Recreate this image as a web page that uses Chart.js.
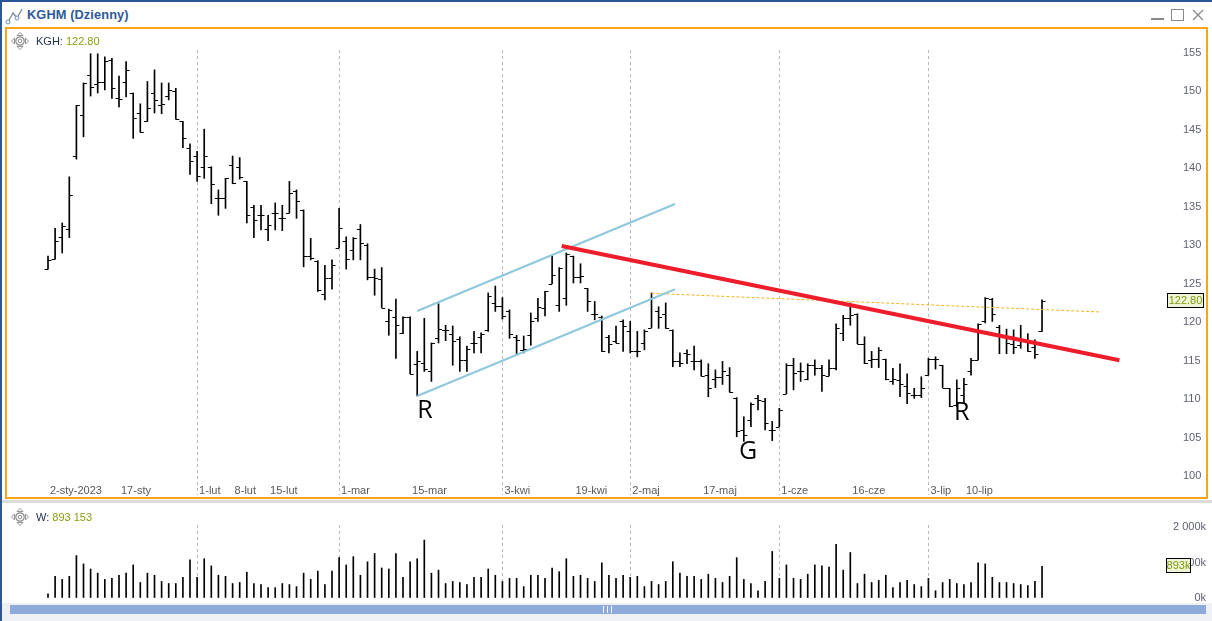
<!DOCTYPE html>
<html lang="pl">
<head>
<meta charset="utf-8">
<title>KGHM (Dzienny)</title>
<script src="https://cdn.jsdelivr.net/npm/chart.js@4.4.1/dist/chart.umd.min.js"></script>
<style>
html,body{margin:0;padding:0;}
body{width:1212px;height:621px;position:relative;overflow:hidden;background:#fff;font-family:"Liberation Sans",Arial,sans-serif;}
#topline{position:absolute;left:0;top:0;width:1212px;height:2px;background:#2b5797;}
#leftline{position:absolute;left:0;top:0;width:2px;height:621px;background:#2b5797;z-index:9;}
#title{position:absolute;left:27px;top:7px;font-weight:bold;font-size:12.8px;color:#2e5a98;letter-spacing:0.1px;}
#ticon{position:absolute;left:5px;top:7px;}
#wbtn{position:absolute;left:1148px;top:6px;}
#frame{position:absolute;left:5px;top:27px;width:1203px;height:472px;box-sizing:border-box;border:2px solid #f9a51b;z-index:5;pointer-events:none;}
#priceWrap{position:absolute;left:7px;top:29px;width:1199px;height:476px;z-index:2;}
#sep{position:absolute;left:2px;top:500px;width:1210px;height:3px;background:#dcdcdc;z-index:6;}
#volWrap{position:absolute;left:7px;top:515px;width:1199px;height:93px;z-index:2;}
#scroll{position:absolute;left:2px;top:603px;width:1210px;height:18px;background:#eef0f4;z-index:6;}
#sbar{position:absolute;left:8px;top:2px;width:1196px;height:9px;background:#8eaadb;}
#thumb{position:absolute;left:593px;top:1px;width:7px;height:7px;border-left:1px solid #fff;border-right:1px solid #fff;}
#thumb:after{content:"";position:absolute;left:3px;top:0;width:1px;height:7px;background:#fff;}
.legend{position:absolute;font-size:11px;color:#1f2d4d;z-index:7;white-space:nowrap;}
.legend span{color:#8a9c12;}
.micon{position:absolute;z-index:7;}
</style>
</head>
<body>
<div id="topline"></div>
<div id="leftline"></div>
<svg id="ticon" width="20" height="18" viewBox="0 0 20 18">
  <polyline points="3,15 8,6 12,11 17,2" fill="none" stroke="#7f8a9a" stroke-width="1.3"/>
  <circle cx="3" cy="15" r="2" fill="#fff" stroke="#6d8fbf" stroke-width="1"/>
  <circle cx="12" cy="11" r="2" fill="#fff" stroke="#6d8fbf" stroke-width="1"/>
</svg>
<div id="title">KGHM (Dzienny)</div>
<svg id="wbtn" width="60" height="18" viewBox="0 0 60 18">
  <rect x="3" y="12" width="13" height="2" fill="#8a8a8a"/>
  <rect x="23.5" y="3.5" width="12" height="11" fill="none" stroke="#8a8a8a" stroke-width="1"/>
  <path d="M45 4 L55 14 M55 4 L45 14" stroke="#8a8a8a" stroke-width="1.3"/>
</svg>

<div id="frame"></div>
<svg class="micon" style="left:11px;top:32px" width="18" height="18" viewBox="0 0 18 18">
  <circle cx="9" cy="9" r="4.2" fill="none" stroke="#8a8a8a" stroke-width="1.2"/>
  <circle cx="9" cy="9" r="1.8" fill="none" stroke="#8a8a8a" stroke-width="1"/>
  <path d="M9 0.5 L12 3.5 L6 3.5 Z M9 17.5 L12 14.5 L6 14.5 Z M0.5 9 L3.5 6 L3.5 12 Z M17.5 9 L14.5 6 L14.5 12 Z" fill="none" stroke="#8a8a8a" stroke-width="0.9"/>
</svg>
<div class="legend" id="legP" style="left:36px;top:35px">KGH: <span id="legPv"></span></div>
<div id="priceWrap"><canvas id="priceChart"></canvas></div>
<div id="sep"></div>
<svg class="micon" style="left:11px;top:508px" width="18" height="18" viewBox="0 0 18 18">
  <circle cx="9" cy="9" r="4.2" fill="none" stroke="#8a8a8a" stroke-width="1.2"/>
  <circle cx="9" cy="9" r="1.8" fill="none" stroke="#8a8a8a" stroke-width="1"/>
  <path d="M9 0.5 L12 3.5 L6 3.5 Z M9 17.5 L12 14.5 L6 14.5 Z M0.5 9 L3.5 6 L3.5 12 Z M17.5 9 L14.5 6 L14.5 12 Z" fill="none" stroke="#8a8a8a" stroke-width="0.9"/>
</svg>
<div class="legend" id="legV" style="left:36px;top:511px">W: <span id="legVv"></span></div>
<div id="volWrap"><canvas id="volChart"></canvas></div>
<div id="scroll"><div id="sbar"><div id="thumb"></div></div></div>

<script>
// ---------------- DATA ----------------
// x = trading-day index (0 = 2-sty-2023)
const tickIdx    = [0, 10, 21, 26, 31, 41, 51, 64, 74, 82, 92, 103, 113, 124, 129];
const tickLabels = ['2-sty-2023','17-sty','1-lut','8-lut','15-lut','1-mar','15-mar','3-kwi','19-kwi','2-maj','17-maj','1-cze','16-cze','3-lip','10-lip'];
const monthStartIdx = [21, 41, 64, 82, 103, 124];
const priceTicks = [100,105,110,115,120,125,130,135,140,145,150,155];
const volumeTicks = [0, 1000, 2000]; // thousands

const openP = [126.9,128.2,131.1,132.1,141.6,147.0,152.1,151.0,151.2,154.1,149.2,151.2,149.8,147.2,146.2,149.8,148.2,149.4,150.0,146.1,
  142.7,141.6,140.2,140.2,136.1,136.1,140.4,140.2,138.3,135.0,133.9,132.1,134.2,133.5,134.2,137.1,134.6,128.6,128.0,123.7,
  125.8,129.7,130.5,129.4,132.1,130.0,125.9,125.6,120.1,120.7,118.6,120.7,114.6,114.7,113.6,117.9,119.0,118.5,117.8,115.1,
  117.3,118.1,119.0,122.5,122.1,121.5,118.1,116.4,118.3,120.6,121.8,125.0,122.2,123.2,128.6,125.9,124.4,121.1,120.7,118.1,
  117.5,120.1,118.9,116.2,117.3,119.3,121.4,121.0,119.0,115.0,116.0,115.0,115.0,113.1,112.6,112.9,113.1,110.2,106.0,107.3,
  110.2,109.8,106.0,106.4,110.7,114.4,113.6,112.6,114.4,114.1,113.0,114.0,118.6,120.6,121.0,117.2,115.1,115.2,115.2,112.3,
  112.5,111.7,110.5,110.5,113.1,115.2,114.4,111.4,109.2,110.5,113.7,115.1,120.1,123.0,119.4,118.2,117.2,117.0,117.5,116.8,
  118.8];
const highP = [128.6,132.2,132.9,138.9,148.2,151.1,154.9,154.9,154.5,154.3,152.0,153.9,149.8,148.4,151.3,152.8,151.1,151.1,150.4,146.1,
  143.2,142.2,145.1,140.2,137.2,138.7,141.6,141.4,138.3,135.2,135.2,133.9,135.5,135.2,138.3,137.2,134.6,130.9,128.0,127.4,
  128.1,134.8,131.1,131.0,132.7,130.2,126.9,127.1,121.7,123.0,120.7,120.7,116.2,120.5,117.3,122.4,119.6,119.5,118.1,116.9,
  118.8,118.6,123.8,124.7,123.2,121.6,118.3,118.2,121.2,123.1,124.0,128.6,127.1,129.0,128.6,127.6,124.4,122.7,120.8,118.3,
  119.5,120.3,120.1,118.8,119.0,123.8,122.0,122.5,119.0,116.0,116.4,116.9,115.1,114.6,113.8,114.9,114.1,110.2,107.7,109.5,
  110.5,110.1,107.1,108.8,114.6,115.3,114.7,114.6,115.1,114.4,115.1,119.8,120.9,122.5,121.1,118.1,116.2,116.7,115.2,114.0,
  114.6,113.3,111.4,112.9,115.3,115.5,114.4,111.4,112.5,112.7,115.3,119.8,123.2,123.1,119.6,119.1,119.0,119.6,118.5,117.7,
  122.9];
const lowP = [126.9,128.2,129.0,131.0,141.2,144.1,149.4,149.8,150.2,149.1,148.0,149.3,143.9,144.7,146.1,147.2,147.1,148.9,146.4,142.7,
  139.2,138.3,138.7,135.4,133.9,134.8,138.0,138.6,132.9,131.0,132.0,130.6,132.0,131.9,134.2,133.5,127.2,128.1,124.0,122.9,
  124.3,129.7,126.9,128.1,128.1,125.5,123.5,121.9,118.3,115.3,118.5,113.3,110.4,113.6,112.3,117.3,117.6,114.4,113.6,113.6,
  116.0,116.0,118.8,121.4,120.4,117.9,115.7,116.0,117.0,120.1,120.8,125.0,121.4,122.2,125.1,125.1,121.4,120.3,116.2,116.0,
  117.3,116.2,116.0,115.5,116.4,119.3,119.2,119.2,114.2,114.2,114.6,113.8,113.0,110.3,111.5,111.9,110.9,105.1,104.5,106.4,
  108.6,106.0,104.6,106.4,110.7,111.2,112.3,112.5,113.1,111.0,113.0,113.8,117.6,119.6,117.2,114.6,114.1,114.1,112.5,111.9,
  110.3,109.4,110.1,110.2,113.1,113.9,111.5,109.0,109.0,109.5,113.1,115.1,119.9,120.1,115.9,115.9,115.9,116.6,116.2,115.3,
  118.8];
const closeP = [128.1,130.6,132.5,136.6,148.2,151.1,150.6,151.2,154.0,150.4,149.0,152.8,146.5,144.7,147.9,148.9,148.4,150.2,146.4,143.9,
  140.9,139.0,141.6,138.0,136.2,138.7,138.1,138.9,133.9,133.3,133.9,132.6,134.2,133.6,136.8,135.7,128.6,128.3,124.2,125.8,
  127.5,132.3,128.2,131.0,130.3,125.9,125.7,121.9,121.6,119.6,120.7,113.3,114.9,113.9,117.3,119.1,119.0,117.5,115.1,116.5,
  117.3,118.5,123.4,122.1,120.8,118.5,117.7,116.5,120.1,122.0,124.0,126.1,127.1,128.9,125.9,126.0,122.8,121.0,116.3,117.2,
  117.3,119.5,116.2,116.3,118.8,123.1,120.7,119.2,114.9,114.7,115.8,115.0,113.0,111.5,112.9,113.6,110.9,105.8,105.3,109.4,
  109.9,106.9,106.0,108.6,114.4,113.4,113.7,114.4,114.1,113.1,114.0,119.2,120.6,120.9,117.2,114.7,115.2,116.4,112.6,112.6,
  112.0,110.8,110.5,111.4,115.2,115.2,111.5,109.1,111.4,111.9,115.1,119.8,123.1,121.1,118.3,117.3,116.8,117.7,116.3,115.9,
  122.8];
// volume in thousands of shares
const volumeK = [117,612,524,612,1194,961,816,699,524,553,641,699,932,437,699,641,466,408,408,583,
  1078,583,1107,903,641,612,408,437,728,408,379,291,291,408,379,320,699,524,757,379,
  757,1136,932,1165,641,1020,1253,845,816,1253,583,1020,1107,1631,699,786,408,466,437,379,
  583,583,816,641,466,553,553,320,641,641,553,845,740,1107,612,641,553,466,990,641,
  553,641,583,612,320,466,379,466,1020,699,612,612,524,670,553,437,612,1136,524,408,
  204,466,1311,553,932,553,524,670,932,903,874,1515,786,1282,408,670,437,495,641,291,
  437,495,379,320,553,204,437,524,408,379,437,990,961,583,437,437,408,379,350,466,
  893.153];

// drawn trend lines: [index, price] end points
const upperChannel = [[52.0, 121.45], [88.3, 135.37]];
const lowerChannel = [[52.0, 110.40], [88.3, 124.28]];
const redTrend     = [[72.35, 129.91], [150.9, 115.04]];
const orangeLevel  = [[85.0, 123.75], [148.4, 121.32]];
const noteTexts  = ['R', 'G', 'R'];
const noteIdx    = [53.1, 98.6, 128.7];
const notePrice  = [108.5, 103.2, 108.15];

// ---------------- BUILD ----------------
const N = closeP.length;
const lastClose = closeP[N-1];
const lastVol = volumeK[N-1];
document.getElementById('legPv').textContent = lastClose.toFixed(2);
document.getElementById('legVv').textContent = String(Math.round(lastVol*1000)).replace(/\B(?=(\d{3})+(?!\d))/g,' ');

const X_MIN = -5.775, X_MAX = 157.32;
const FONT = 'Liberation Sans';
const toPts = arr => arr.map(p => ({x:p[0], y:p[1]}));
const hlData = closeP.map((c,i) => ({x:i, y:[lowP[i], highP[i]]}));
const volData = volumeK.map((v,i) => ({x:i, y:v}));

function makeX(){
  return {
    type:'linear', min:X_MIN, max:X_MAX, position:'bottom', offset:false, bounds:'ticks',
    afterBuildTicks: s => { s.ticks = monthStartIdx.map(v => ({value:v})); },
    ticks:{display:false},
    grid:{display:true, offset:false, color:'#b8b8b8', lineWidth:1, drawTicks:false},
    border:{display:false, dash:[3,3]}
  };
}

const ohlcTicks = {
  id:'ohlcTicks',
  beforeDatasetsDraw(chart){
    const {ctx, scales:{x, y}} = chart;
    ctx.save();
    ctx.strokeStyle = '#000';
    ctx.lineWidth = 1;
    ctx.beginPath();
    for (let i=0;i<N;i++){
      const px = x.getPixelForValue(i);
      const yo = Math.round(y.getPixelForValue(openP[i])) + 0.5;
      const yc = Math.round(y.getPixelForValue(closeP[i])) + 0.5;
      ctx.moveTo(px-3.5, yo); ctx.lineTo(px, yo);
      ctx.moveTo(px, yc); ctx.lineTo(px+3.5, yc);
    }
    ctx.stroke();
    ctx.restore();
  },
  afterDatasetsDraw(chart){
    const {ctx, scales:{x, y}, chartArea} = chart;
    ctx.save();
    ctx.fillStyle = '#000';
    ctx.font = '25px "Open Sans"';
    ctx.textAlign = 'center';
    ctx.textBaseline = 'middle';
    noteTexts.forEach((t,k) => ctx.fillText(t, x.getPixelForValue(noteIdx[k]), y.getPixelForValue(notePrice[k])));
    ctx.font = '11px "' + FONT + '"';
    ctx.fillStyle = '#5a5a5a';
    ctx.textAlign = 'left';
    tickLabels.forEach((t,k) => ctx.fillText(t, x.getPixelForValue(tickIdx[k]) + 2, chartArea.bottom - 4.5));
    ctx.restore();
  },
  afterDraw(chart){
    const {ctx, scales:{y}, chartArea} = chart;
    const yy = Math.round(y.getPixelForValue(lastClose));
    ctx.save();
    const x0 = chartArea.right + 2.5, w = 36, h = 14;
    ctx.fillStyle = '#eef4d6';
    ctx.fillRect(x0, yy - 7.5, w, h);
    ctx.strokeStyle = '#000'; ctx.lineWidth = 1;
    ctx.strokeRect(x0, yy - 7.5, w, h);
    ctx.fillStyle = '#7f9a10';
    ctx.font = '11px "' + FONT + '"';
    ctx.textAlign = 'center'; ctx.textBaseline = 'middle';
    ctx.fillText(lastClose.toFixed(2), x0 + w/2, yy);
    ctx.restore();
  }
};

new Chart(document.getElementById('priceChart'), {
  type:'bar',
  data:{datasets:[
    {type:'line', label:'kanał górny', data:toPts(upperChannel), borderColor:'#8ec8dc', borderWidth:2, pointRadius:0, order:1},
    {type:'line', label:'kanał dolny', data:toPts(lowerChannel), borderColor:'#8ec8dc', borderWidth:2, pointRadius:0, order:1},
    {type:'line', label:'poziom', data:toPts(orangeLevel), borderColor:'#f5b21a', borderWidth:1, borderDash:[3,2], pointRadius:0, order:1},
    {type:'line', label:'linia trendu', data:toPts(redTrend), borderColor:'#ee1d2b', borderWidth:4, pointRadius:0, order:0},
    {type:'bar', label:'KGH', data:hlData, backgroundColor:'#000', borderWidth:0, barThickness:1, order:5}
  ]},
  options:{
    responsive:true, maintainAspectRatio:false, animation:false,
    layout:{padding:{top:21, bottom:10, left:0, right:0}},
    plugins:{legend:{display:false}, tooltip:{enabled:false}},
    scales:{
      x: makeX(),
      y:{
        position:'right', min:97.53, max:155.39,
        afterBuildTicks: s => { s.ticks = priceTicks.map(v => ({value:v})); },
        afterFit: s => { s.width = 41; },
        grid:{display:true, drawOnChartArea:false, drawTicks:true, tickLength:18, color:'rgba(0,0,0,0)', tickColor:'rgba(0,0,0,0)'},
        border:{display:false},
        ticks:{padding:0, color:'#5f6270', font:{family:FONT, size:11}, callback:v => String(v)}
      }
    }
  },
  plugins:[ohlcTicks]
});

const volBox = {
  id:'volBox',
  afterDraw(chart){
    const {ctx, scales:{y}, chartArea} = chart;
    const yy = Math.round(y.getPixelForValue(lastVol));
    ctx.save();
    const x0 = chartArea.right + 1.5, w = 24, h = 14;
    ctx.fillStyle = '#eef4d6';
    ctx.fillRect(x0, yy - 7.5, w, h);
    ctx.strokeStyle = '#000'; ctx.lineWidth = 1;
    ctx.strokeRect(x0, yy - 7.5, w, h);
    ctx.fillStyle = '#7f9a10';
    ctx.font = '11px "' + FONT + '"';
    ctx.textAlign = 'center'; ctx.textBaseline = 'middle';
    ctx.fillText(Math.round(lastVol) + 'k', x0 + w/2, yy);
    ctx.restore();
  }
};

new Chart(document.getElementById('volChart'), {
  type:'bar',
  data:{datasets:[
    {label:'W', data:volData, backgroundColor:'#000', borderWidth:0, barThickness:1}
  ]},
  options:{
    responsive:true, maintainAspectRatio:false, animation:false,
    layout:{padding:{top:10, bottom:10, left:0, right:0}},
    plugins:{legend:{display:false}, tooltip:{enabled:false}},
    scales:{
      x: makeX(),
      y:{
        position:'right', min:0, max:2056,
        afterBuildTicks: s => { s.ticks = volumeTicks.map(v => ({value:v})); },
        afterFit: s => { s.width = 41; },
        grid:{display:true, drawOnChartArea:false, drawTicks:true, tickLength:2, color:'rgba(0,0,0,0)', tickColor:'rgba(0,0,0,0)'},
        border:{display:false},
        ticks:{padding:0, crossAlign:'far', color:'#5f6270', font:{family:FONT, size:11},
          callback:v => (v === 0 ? '0' : String(v).replace(/\B(?=(\d{3})+(?!\d))/g,' ')) + 'k'}
      }
    }
  },
  plugins:[volBox]
});
</script>
</body>
</html>
